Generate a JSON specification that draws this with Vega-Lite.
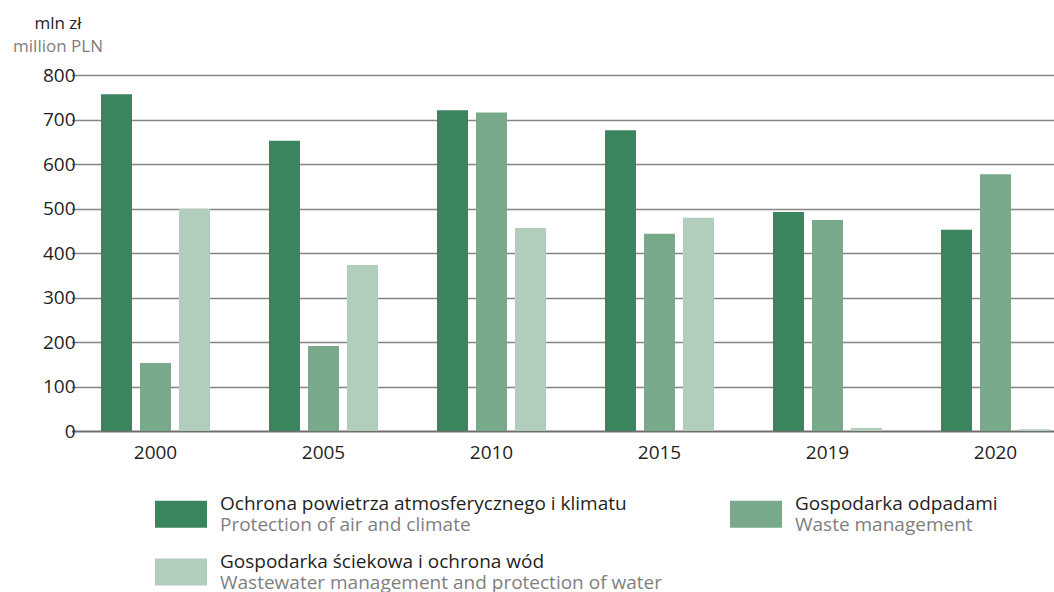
{
  "$schema": "https://vega.github.io/schema/vega-lite/v6.json",
  "width": 968,
  "height": 356,
  "autosize": {"type": "none"},
  "padding": {"left": 86, "top": 75, "right": 0, "bottom": 161},
  "background": "#ffffff",
  "title": {
    "text": "mln zł",
    "subtitle": "million PLN",
    "anchor": "start",
    "align": "center",
    "frame": "group",
    "dx": -28,
    "offset": 10,
    "font": "Open Sans",
    "fontSize": 17,
    "fontWeight": "normal",
    "color": "#1f1f1f",
    "subtitleFont": "Open Sans",
    "subtitleFontSize": 17,
    "subtitleColor": "#808080",
    "subtitlePadding": 6
  },
  "data": {
    "values": [
      {"year": "2000", "key": "a", "pl": "Ochrona powietrza atmosferycznego i klimatu", "en": "Protection of air and climate", "value": 757},
      {"year": "2000", "key": "b", "pl": "Gospodarka odpadami", "en": "Waste management", "value": 153},
      {"year": "2000", "key": "c", "pl": "Gospodarka ściekowa i ochrona wód", "en": "Wastewater management and  protection of water", "value": 499},
      {"year": "2005", "key": "a", "pl": "Ochrona powietrza atmosferycznego i klimatu", "en": "Protection of air and climate", "value": 652},
      {"year": "2005", "key": "b", "pl": "Gospodarka odpadami", "en": "Waste management", "value": 191},
      {"year": "2005", "key": "c", "pl": "Gospodarka ściekowa i ochrona wód", "en": "Wastewater management and  protection of water", "value": 373},
      {"year": "2010", "key": "a", "pl": "Ochrona powietrza atmosferycznego i klimatu", "en": "Protection of air and climate", "value": 721},
      {"year": "2010", "key": "b", "pl": "Gospodarka odpadami", "en": "Waste management", "value": 716},
      {"year": "2010", "key": "c", "pl": "Gospodarka ściekowa i ochrona wód", "en": "Wastewater management and  protection of water", "value": 456},
      {"year": "2015", "key": "a", "pl": "Ochrona powietrza atmosferycznego i klimatu", "en": "Protection of air and climate", "value": 676},
      {"year": "2015", "key": "b", "pl": "Gospodarka odpadami", "en": "Waste management", "value": 443},
      {"year": "2015", "key": "c", "pl": "Gospodarka ściekowa i ochrona wód", "en": "Wastewater management and  protection of water", "value": 479},
      {"year": "2019", "key": "a", "pl": "Ochrona powietrza atmosferycznego i klimatu", "en": "Protection of air and climate", "value": 492},
      {"year": "2019", "key": "b", "pl": "Gospodarka odpadami", "en": "Waste management", "value": 474},
      {"year": "2019", "key": "c", "pl": "Gospodarka ściekowa i ochrona wód", "en": "Wastewater management and  protection of water", "value": 7},
      {"year": "2020", "key": "a", "pl": "Ochrona powietrza atmosferycznego i klimatu", "en": "Protection of air and climate", "value": 452},
      {"year": "2020", "key": "b", "pl": "Gospodarka odpadami", "en": "Waste management", "value": 577},
      {"year": "2020", "key": "c", "pl": "Gospodarka ściekowa i ochrona wód", "en": "Wastewater management and  protection of water", "value": 4}
    ]
  },
  "mark": {"type": "bar", "strokeWidth": 0},
  "encoding": {
    "x": {
      "field": "year",
      "type": "nominal",
      "scale": {"range": [-14.5, 993.5], "paddingInner": 0, "paddingOuter": 0},
      "axis": {
        "title": null,
        "domain": false,
        "ticks": false,
        "labelAngle": 0,
        "labelPadding": 12,
        "labelFont": "Open Sans",
        "labelFontSize": 19,
        "labelColor": "#1f1f1f"
      }
    },
    "xOffset": {
      "field": "key",
      "type": "nominal",
      "scale": {"domain": ["a", "b", "c"], "paddingInner": 0.2051, "paddingOuter": 0.7564}
    },
    "y": {
      "field": "value",
      "type": "quantitative",
      "scale": {"domain": [0, 800], "nice": false},
      "axis": {
        "title": null,
        "values": [0, 100, 200, 300, 400, 500, 600, 700, 800],
        "domain": false,
        "ticks": false,
        "labelPadding": 11,
        "labelFont": "Open Sans",
        "labelFontSize": 19,
        "labelColor": "#1f1f1f",
        "gridColor": {"condition": {"test": "datum.value === 0", "value": "#6e6e6e"}, "value": "#858585"},
        "gridWidth": {"condition": {"test": "datum.value === 0", "value": 2}, "value": 1.3}
      }
    },
    "fill": {
      "field": "pl",
      "type": "nominal",
      "scale": {
        "domain": ["Ochrona powietrza atmosferycznego i klimatu", "Gospodarka odpadami", "Gospodarka ściekowa i ochrona wód"],
        "range": ["#3a845e", "#77a98a", "#b1cdbc"]
      },
      "legend": {
        "title": null,
        "orient": "none",
        "legendX": 69,
        "legendY": 413,
        "direction": "horizontal",
        "columns": 2,
        "columnPadding": 103,
        "rowPadding": 18,
        "padding": 0,
        "symbolType": "M-1,-0.52H1V0.52H-1Z",
        "symbolSize": 2704,
        "symbolStrokeWidth": 0,
        "symbolOpacity": 1,
        "labelOffset": 13,
        "labelFont": "Open Sans",
        "labelFontSize": 19,
        "labelColor": "#1f1f1f",
        "labelBaseline": "bottom",
        "labelLimit": 600
      }
    },
    "stroke": {
      "field": "en",
      "type": "nominal",
      "scale": {
        "domain": ["Protection of air and climate", "Waste management", "Wastewater management and  protection of water"],
        "range": ["#3a845e", "#77a98a", "#b1cdbc"]
      },
      "legend": {
        "title": null,
        "orient": "none",
        "legendX": 69,
        "legendY": 434,
        "direction": "horizontal",
        "columns": 2,
        "columnPadding": 63,
        "rowPadding": 18,
        "padding": 0,
        "symbolType": "M-1,-0.52H1V0.52H-1Z",
        "symbolSize": 2704,
        "symbolStrokeWidth": 0,
        "symbolOpacity": 0,
        "labelOffset": 13,
        "labelFont": "Open Sans",
        "labelFontSize": 19,
        "labelColor": "#7f7f7f",
        "labelBaseline": "bottom",
        "labelLimit": 600
      }
    }
  },
  "config": {
    "view": {"stroke": null},
    "axis": {"gridDash": []}
  }
}
